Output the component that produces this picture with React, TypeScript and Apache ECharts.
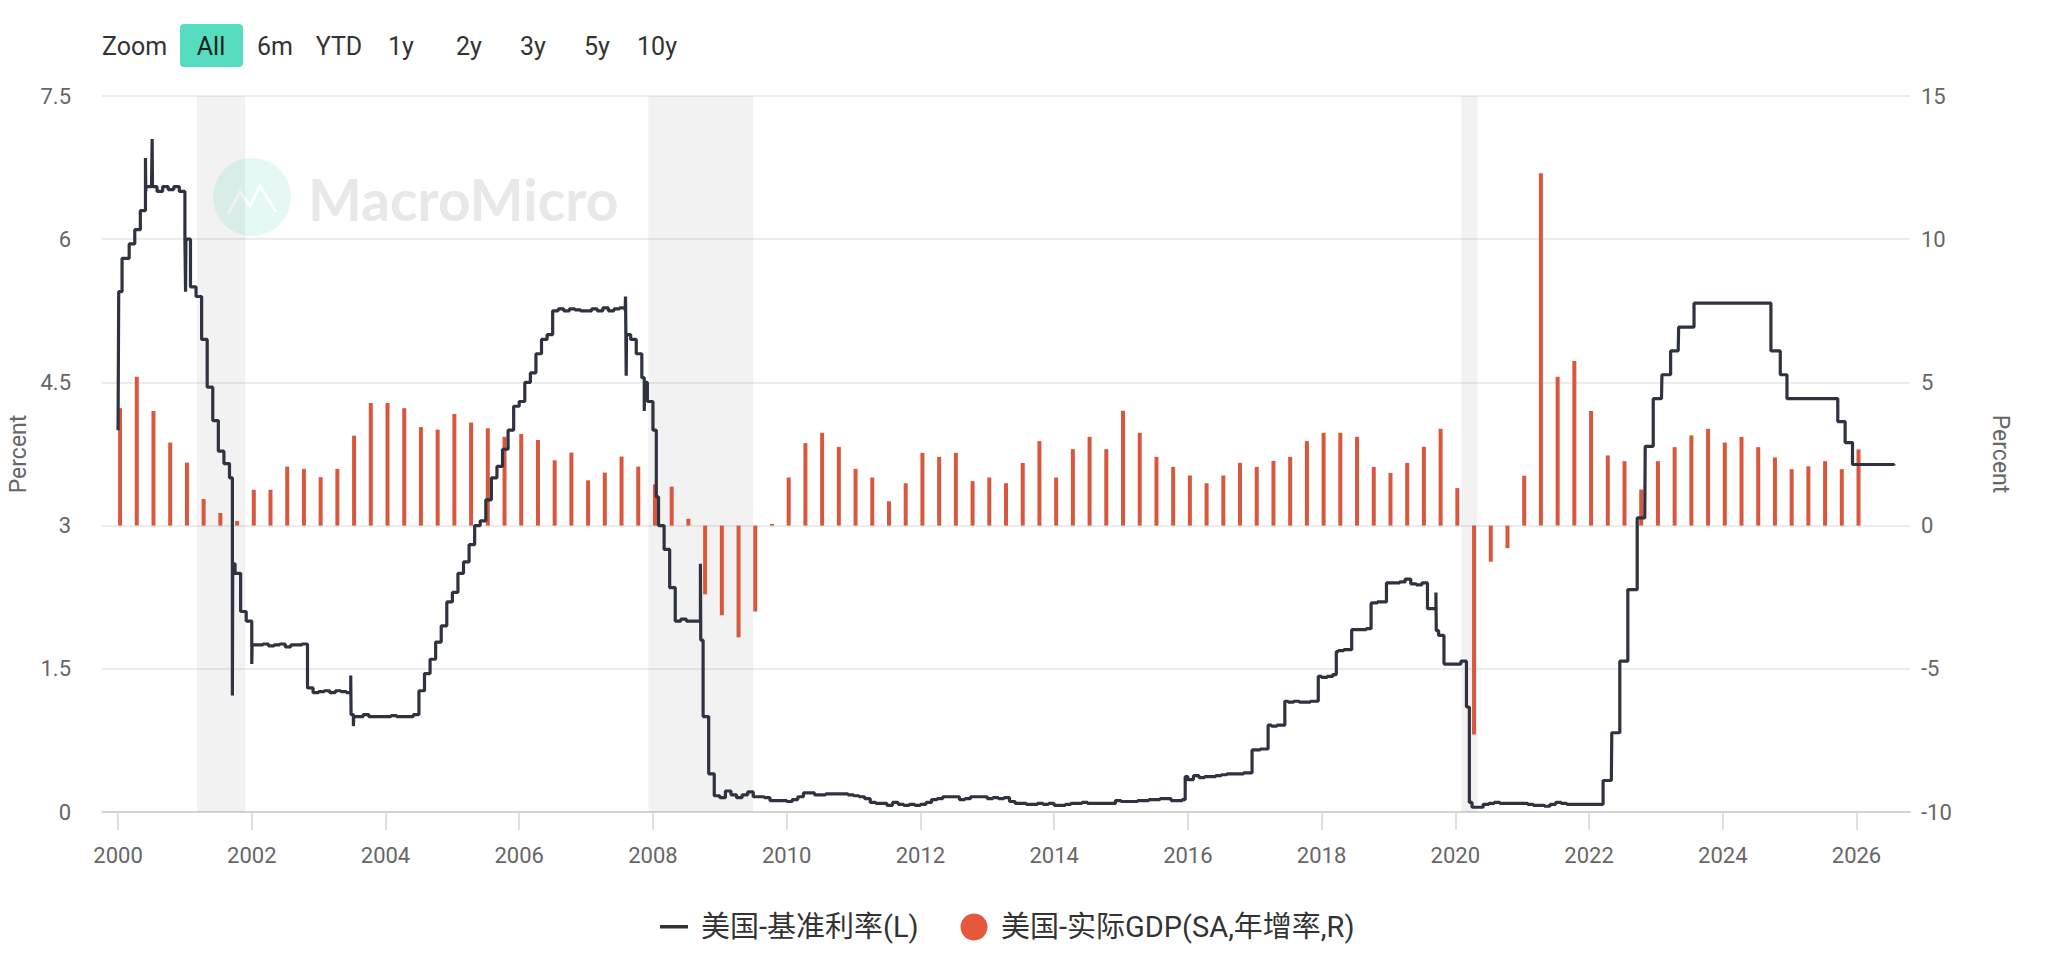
import React, { useEffect, useRef } from "react";
import * as echarts from "echarts";

// ---------- DATA ----------
// X-axis tick labels (years)
const yearTicks = [2000, 2002, 2004, 2006, 2008, 2010, 2012, 2014, 2016, 2018, 2020, 2022, 2024, 2026];

// Recession shading periods (decimal years)
const recessionStart = [2001.18, 2007.93, 2020.09];
const recessionEnd = [2001.9, 2009.5, 2020.33];

// Real GDP YoY (%), quarterly, from 2000Q1
const gdpStartYear = 2000;
const gdpYoY = [
  // 2000
  4.1, 5.2, 4.0, 2.9,
  // 2001
  2.2, 0.93, 0.44, 0.16,
  // 2002
  1.25, 1.25, 2.06, 1.98,
  // 2003
  1.69, 1.98, 3.14, 4.28,
  // 2004
  4.28, 4.1, 3.44, 3.35,
  // 2005
  3.9, 3.6, 3.4, 3.1,
  // 2006
  3.2, 2.99, 2.28, 2.55,
  // 2007
  1.58, 1.85, 2.41, 2.06,
  // 2008
  1.44, 1.36, 0.24, -2.4,
  // 2009
  -3.13, -3.9, -3.0, 0.06,
  // 2010
  1.68, 2.88, 3.24, 2.75,
  // 2011
  1.98, 1.68, 0.85, 1.48,
  // 2012
  2.54, 2.4, 2.54, 1.55,
  // 2013
  1.68, 1.48, 2.19, 2.95,
  // 2014
  1.68, 2.67, 3.1, 2.67,
  // 2015
  4.01, 3.24, 2.4, 2.05,
  // 2016
  1.75, 1.48, 1.75, 2.19,
  // 2017
  2.05, 2.26, 2.4, 2.95,
  // 2018
  3.24, 3.24, 3.1, 2.05,
  // 2019
  1.84, 2.19, 2.75, 3.38,
  // 2020
  1.31, -7.29, -1.26, -0.79,
  // 2021
  1.74, 12.3, 5.2, 5.75,
  // 2022
  4.0, 2.45, 2.25, 1.26,
  // 2023
  2.25, 2.74, 3.15, 3.38,
  // 2024
  2.9, 3.1, 2.74, 2.38,
  // 2025
  1.97, 2.07, 2.25, 1.97,
  // 2026
  2.66,
];

// Policy (effective fed funds) rate (%), level at the start of each month from Jan 2000
const rateStartYear = 2000;
const rateMonthly = [
  // 2000
  4.0, 5.8, 5.95, 6.1, 6.3, 6.55, 6.55, 6.5, 6.55, 6.52, 6.55, 6.5,
  // 2001
  6.0, 5.5, 5.4, 4.95, 4.45, 4.1, 3.78, 3.65, 3.5, 2.5, 2.1, 2.0,
  // 2002
  1.55, 1.75, 1.76, 1.74, 1.75, 1.76, 1.73, 1.75, 1.75, 1.76, 1.3, 1.25,
  // 2003
  1.26, 1.27, 1.25, 1.27, 1.26, 1.25, 1.02, 1.0, 1.02, 1.0, 1.0, 1.0,
  // 2004
  1.0, 1.01, 1.0, 1.0, 1.0, 1.02, 1.27, 1.45, 1.6, 1.78, 1.95, 2.2,
  // 2005
  2.3, 2.5, 2.62, 2.8, 3.0, 3.05, 3.27, 3.5, 3.62, 3.8, 4.0, 4.25,
  // 2006
  4.3, 4.5, 4.6, 4.8, 4.95, 5.0, 5.25, 5.27, 5.25, 5.27, 5.26, 5.25,
  // 2007
  5.25, 5.27, 5.25, 5.28, 5.25, 5.27, 5.28, 5.25, 4.95, 4.8, 4.55, 4.3,
  // 2008
  4.0, 3.0, 2.75, 2.35, 2.0, 2.02, 2.0, 2.0, 2.0, 1.0, 0.4, 0.17,
  // 2009
  0.15, 0.22, 0.18, 0.15, 0.18, 0.21, 0.16, 0.16, 0.15, 0.12, 0.12, 0.12,
  // 2010
  0.11, 0.13, 0.16, 0.2, 0.2, 0.18, 0.18, 0.19, 0.19, 0.19, 0.19, 0.18,
  // 2011
  0.17, 0.16, 0.14, 0.1, 0.09, 0.09, 0.07, 0.1, 0.08, 0.07, 0.08, 0.07,
  // 2012
  0.08, 0.1, 0.13, 0.14, 0.16, 0.16, 0.16, 0.13, 0.14, 0.16, 0.16, 0.16,
  // 2013
  0.14, 0.15, 0.14, 0.15, 0.11, 0.09, 0.09, 0.08, 0.08, 0.09, 0.08, 0.09,
  // 2014
  0.07, 0.07, 0.08, 0.09, 0.09, 0.1, 0.09, 0.09, 0.09, 0.09, 0.09, 0.12,
  // 2015
  0.11, 0.11, 0.11, 0.12, 0.12, 0.13, 0.13, 0.14, 0.14, 0.12, 0.12, 0.13,
  // 2016
  0.34, 0.38, 0.36, 0.37, 0.37, 0.38, 0.39, 0.4, 0.4, 0.4, 0.41, 0.41,
  // 2017
  0.65, 0.66, 0.66, 0.9, 0.91, 0.91, 1.15, 1.16, 1.15, 1.15, 1.16, 1.16,
  // 2018
  1.41, 1.42, 1.44, 1.69, 1.7, 1.7, 1.91, 1.91, 1.92, 2.19, 2.2, 2.2,
  // 2019
  2.4, 2.4, 2.41, 2.44, 2.39, 2.38, 2.4, 2.13, 2.13, 1.85, 1.55, 1.55,
  // 2020
  1.55, 1.58, 1.1, 0.05, 0.05, 0.08, 0.09, 0.1, 0.09, 0.09, 0.09, 0.09,
  // 2021
  0.09, 0.08, 0.07, 0.07, 0.06, 0.08, 0.1, 0.09, 0.08, 0.08, 0.08, 0.08,
  // 2022
  0.08, 0.08, 0.08, 0.33, 0.33, 0.83, 1.58, 2.33, 2.33, 3.08, 3.08, 3.83,
  // 2023
  4.33, 4.33, 4.58, 4.83, 4.83, 5.08, 5.08, 5.33, 5.33, 5.33, 5.33, 5.33,
  // 2024
  5.33, 5.33, 5.33, 5.33, 5.33, 5.33, 5.33, 5.33, 5.33, 4.83, 4.83, 4.58,
  // 2025
  4.33, 4.33, 4.33, 4.33, 4.33, 4.33, 4.33, 4.33, 4.33, 4.09, 3.87, 3.87,
  // 2026
  3.64, 3.64, 3.64, 3.64, 3.64, 3.64, 3.64,
];

// Intra-month changes and daily spikes: [decimal year, rate]
const rateEvents: [number, number][] = [
  [2000.01, 5.45], [2000.06, 5.8],
  [2000.41, 6.85], [2000.415, 6.5],
  [2000.51, 7.05], [2000.515, 6.55],
  [2001.01, 5.45], [2001.015, 6.0],
  [2001.71, 1.22], [2001.715, 2.6],
  [2002.005, 1.75],
  [2003.48, 1.43], [2003.485, 1.02], [2003.52, 0.9], [2003.525, 1.0],
  [2007.59, 5.4], [2007.6, 4.57], [2007.605, 5.0],
  [2007.87, 4.2], [2007.875, 4.5],
  [2008.05, 3.3],
  [2008.71, 2.6], [2008.715, 1.8],
  [2015.96, 0.37],
  [2016.96, 0.65],
  [2017.2, 0.91], [2017.45, 1.16], [2017.95, 1.42],
  [2018.22, 1.68], [2018.45, 1.91], [2018.74, 2.18], [2018.97, 2.4],
  [2019.71, 2.3], [2019.715, 1.9], [2019.83, 1.57],
  [2020.21, 0.1],
  [2022.21, 0.33], [2022.34, 0.83], [2022.46, 1.58], [2022.58, 2.33],
  [2022.72, 3.08], [2022.84, 3.83], [2022.96, 4.33],
  [2023.09, 4.58], [2023.22, 4.83], [2023.34, 5.08], [2023.57, 5.33],
  [2024.72, 4.83], [2024.86, 4.58], [2024.96, 4.33],
  [2025.72, 4.09], [2025.83, 3.87], [2025.94, 3.64],
  [2026.56, 3.63],
];

const zoomButtons = ["6m", "YTD", "1y", "2y", "3y", "5y", "10y"];
const zoomButtonX = [275, 339, 401, 469, 533, 597, 657];

const seriesRateName = "美国-基准利率(L)";
const seriesGdpName = "美国-实际GDP(SA,年增率,R)";

// ---------- BUILD ----------
const ratePoints: [number, number][] = rateMonthly
  .map((v, i) => [rateStartYear + i / 12, v] as [number, number])
  .concat(rateEvents)
  .sort((a, b) => a[0] - b[0]);

const gdpPoints: [number, number][] = gdpYoY.map(
  (v, i) => [gdpStartYear + i * 0.25 + 0.03, v] as [number, number]
);

const FONT = "Roboto, 'Noto Sans CJK SC', sans-serif";

const option: any = {
  animation: false,
  backgroundColor: "#ffffff",
  textStyle: { fontFamily: FONT },
  grid: { left: 102, right: 148, top: 96, bottom: 168, containLabel: false, outerBoundsMode: "none" },
  xAxis: {
    type: "value",
    min: 1999.76,
    max: 2026.8,
    axisLine: { onZero: false, lineStyle: { color: "#d4d4d4", width: 2 } },
    axisTick: { show: true, length: 18, customValues: yearTicks, lineStyle: { color: "#d4d4d4", width: 1.5 } },
    axisLabel: {
      customValues: yearTicks,
      formatter: (v: number) => String(Math.round(v)),
      color: "#666666",
      fontSize: 22,
      margin: 32,
      fontFamily: FONT,
    },
    splitLine: { show: false },
  },
  yAxis: [
    {
      type: "value",
      min: 0,
      max: 7.5,
      interval: 1.5,
      position: "left",
      name: "Percent",
      nameLocation: "middle",
      nameRotate: 90,
      nameGap: 70,
      nameTextStyle: { color: "#666666", fontSize: 23, fontFamily: FONT },
      axisLine: { show: false },
      axisTick: { show: false },
      axisLabel: { color: "#666666", fontSize: 22, margin: 31, fontFamily: FONT },
      splitLine: { show: true, lineStyle: { color: "#e6e6e6", width: 1.5 } },
    },
    {
      type: "value",
      min: -10,
      max: 15,
      interval: 5,
      position: "right",
      name: "Percent",
      nameLocation: "middle",
      nameRotate: -90,
      nameGap: 79,
      nameTextStyle: { color: "#666666", fontSize: 23, fontFamily: FONT },
      axisLine: { show: false },
      axisTick: { show: false },
      axisLabel: { color: "#666666", fontSize: 22, margin: 11, fontFamily: FONT },
      splitLine: { show: false },
    },
  ],
  series: [
    {
      name: "recession",
      type: "line",
      data: [],
      silent: true,
      z: 1,
      markArea: {
        silent: true,
        itemStyle: { color: "rgba(0,0,0,0.05)" },
        data: recessionStart.map((s, i) => [{ xAxis: s }, { xAxis: recessionEnd[i] }]),
      },
    },
    {
      name: seriesGdpName,
      type: "bar",
      xAxisIndex: 0,
      yAxisIndex: 1,
      barWidth: 4,
      data: gdpPoints,
      itemStyle: { color: "#d9573d" },
      z: 2,
    },
    {
      name: seriesRateName,
      type: "line",
      xAxisIndex: 0,
      yAxisIndex: 0,
      step: "end",
      showSymbol: false,
      data: ratePoints,
      lineStyle: { color: "#2f3241", width: 3.2 },
      z: 3,
    },
  ],
  graphic: {
    elements: [
      // watermark
      { type: "circle", shape: { cx: 252, cy: 197, r: 39 }, style: { fill: "rgba(86,220,190,0.16)" }, z: 0, silent: true },
      {
        type: "polyline",
        shape: { points: [[228, 214], [240, 192], [250, 206], [260, 186], [276, 212]] },
        style: { stroke: "rgba(255,255,255,0.9)", lineWidth: 3, fill: null },
        z: 0,
        silent: true,
      },
      {
        type: "text",
        x: 308,
        y: 199,
        style: { text: "MacroMicro", fill: "#e8e8e8", font: "bold 57px Lato, sans-serif", textAlign: "left", textVerticalAlign: "middle" },
        z: 0,
        silent: true,
      },
      // zoom buttons
      {
        type: "text",
        x: 102,
        y: 46,
        style: { text: "Zoom", fill: "#333333", font: `25px ${FONT}`, textAlign: "left", textVerticalAlign: "middle" },
      },
      { type: "rect", shape: { x: 180, y: 24, width: 63, height: 43, r: 4 }, style: { fill: "#56dcbf" } },
      {
        type: "text",
        x: 211,
        y: 46,
        style: { text: "All", fill: "#1f1f1f", font: `25px ${FONT}`, textAlign: "center", textVerticalAlign: "middle" },
      },
      ...zoomButtons.map((b, i) => ({
        type: "text",
        x: zoomButtonX[i],
        y: 46,
        style: { text: b, fill: "#333333", font: `25px ${FONT}`, textAlign: "center", textVerticalAlign: "middle" },
      })),
      // legend
      { type: "rect", shape: { x: 660, y: 925, width: 28, height: 3.5 }, style: { fill: "#333333" } },
      {
        type: "text",
        x: 701,
        y: 927,
        style: { text: seriesRateName, fill: "#333333", font: `29px ${FONT}`, textAlign: "left", textVerticalAlign: "middle" },
      },
      { type: "circle", shape: { cx: 974, cy: 927, r: 13.5 }, style: { fill: "#e5583d" } },
      {
        type: "text",
        x: 1001,
        y: 927,
        style: { text: seriesGdpName, fill: "#333333", font: `29px ${FONT}`, textAlign: "left", textVerticalAlign: "middle" },
      },
    ],
  },
};

export default function App() {
  const ref = useRef<HTMLDivElement>(null);
  useEffect(() => {
    if (!ref.current) return;
    const chart = echarts.init(ref.current, null, { renderer: "svg" });
    chart.setOption(option);
    return () => chart.dispose();
  }, []);
  return (
    <div
      ref={ref}
      style={{ position: "fixed", left: 0, top: 0, width: 2058, height: 980, background: "#ffffff" }}
    />
  );
}
